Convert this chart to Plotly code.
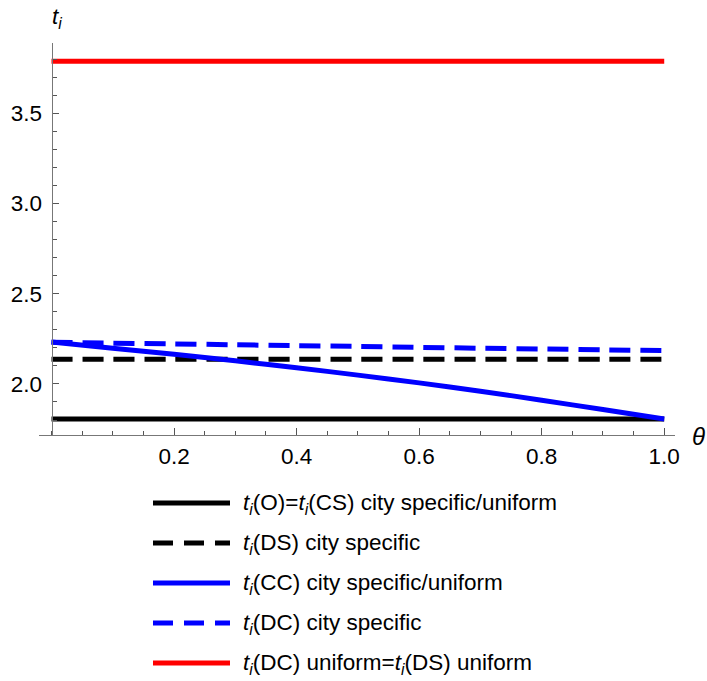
import plotly.graph_objects as go

# ---- data ----
theta = [0.0, 0.1, 0.2, 0.3, 0.4, 0.5, 0.6, 0.7, 0.8, 0.9, 1.0]
t_O_CS = [1.806] * 11
t_DS_city = [2.137] * 11
t_CC = [2.232, 2.198, 2.164, 2.128, 2.090, 2.049, 2.006, 1.960, 1.910, 1.858, 1.806]
t_DC_city = [2.231, 2.226, 2.222, 2.217, 2.212, 2.208, 2.203, 2.198, 2.194, 2.189, 2.185]
t_DC_uniform = [3.789] * 11

series_names = [
    "<i>t<sub>i</sub></i>(O)=<i>t<sub>i</sub></i>(CS) city specific/uniform",
    "<i>t<sub>i</sub></i>(DS) city specific",
    "<i>t<sub>i</sub></i>(CC) city specific/uniform",
    "<i>t<sub>i</sub></i>(DC) city specific",
    "<i>t<sub>i</sub></i>(DC) uniform=<i>t<sub>i</sub></i>(DS) uniform",
]
series_values = [t_O_CS, t_DS_city, t_CC, t_DC_city, t_DC_uniform]
series_colors = ["#000000", "#000000", "#0000ff", "#0000ff", "#ff0000"]
series_dash = ["solid", "21px,10px", "solid", "21px,10px", "solid"]

x_tickvals = [0.2, 0.4, 0.6, 0.8, 1.0]
x_ticktext = ["0.2", "0.4", "0.6", "0.8", "1.0"]
y_tickvals = [2.0, 2.5, 3.0, 3.5]
y_ticktext = ["2.0", "2.5", "3.0", "3.5"]

# ---- layout geometry ----
W, H = 707, 681
L, R, T, B = 39, 32, 43, 246
PW, PH = W - L - R, H - T - B
X_RANGE = [-0.0204, 1.0176]
Y_RANGE = [1.717, 3.890]
FONT = "Liberation Sans, Arial, sans-serif"
FS = 22.5


def px(xp):
    return (xp - L) / PW


def py(yp):
    return (H - B - yp) / PH


fig = go.Figure()
for name, vals, col, dash in zip(series_names, series_values, series_colors, series_dash):
    fig.add_trace(go.Scatter(x=theta, y=vals, mode="lines", name=name,
                             line=dict(color=col, width=5, dash=dash, shape="spline", smoothing=0.6),
                             showlegend=False, hoverinfo="skip"))

# custom legend
shapes = []
annotations = []
leg_y0 = 503
for i, (name, col, dash) in enumerate(zip(series_names, series_colors, series_dash)):
    yy = leg_y0 + 40 * i
    d = "20px,11px" if dash != "solid" else "solid"
    shapes.append(dict(type="line", xref="paper", yref="paper",
                       x0=px(153), x1=px(230), y0=py(yy), y1=py(yy),
                       line=dict(color=col, width=5, dash=d)))
    annotations.append(dict(xref="paper", yref="paper", x=px(241), y=py(yy + 1),
                            text=name, showarrow=False, xanchor="left",
                            yanchor="middle", font=dict(size=FS, color="#000", family=FONT)))

annotations.append(dict(xref="paper", yref="paper", x=px(57), y=py(18),
                        text="<i>t<sub>i</sub></i>", showarrow=False,
                        xanchor="center", yanchor="middle",
                        font=dict(size=FS, color="#000", family=FONT)))
annotations.append(dict(xref="paper", yref="paper", x=px(698), y=py(436),
                        text="<i>θ</i>", showarrow=False,
                        xanchor="center", yanchor="middle",
                        font=dict(size=24, color="#000", family=FONT)))

fig.update_layout(
    width=W, height=H,
    margin=dict(l=L, r=R, t=T, b=B),
    plot_bgcolor="white", paper_bgcolor="white",
    font=dict(family=FONT, size=FS, color="#000"),
    shapes=shapes, annotations=annotations,
    xaxis=dict(range=X_RANGE, showgrid=False, zeroline=False,
               showline=True, linecolor="#777", linewidth=1,
               ticks="inside", ticklen=7, tickcolor="#555", tickwidth=1,
               tickmode="array", tickvals=x_tickvals, ticktext=x_ticktext,
               ticklabelstandoff=1,
               minor=dict(tickmode="linear", tick0=0, dtick=0.05,
                          ticks="inside", ticklen=4, tickcolor="#555", showgrid=False),
               tickfont=dict(size=FS, color="#000")),
    yaxis=dict(range=Y_RANGE, showgrid=False, zeroline=False,
               anchor="free", position=px(51.5),
               showline=True, linecolor="#777", linewidth=1,
               ticks="inside", ticklen=6, tickcolor="#555", tickwidth=1,
               tickmode="array", tickvals=y_tickvals, ticktext=y_ticktext,
               ticklabelstandoff=5,
               minor=dict(tickmode="linear", tick0=0, dtick=0.1,
                          ticks="inside", ticklen=4, tickcolor="#555", showgrid=False),
               tickfont=dict(size=FS, color="#000")),
)

fig.write_html("out.html")
